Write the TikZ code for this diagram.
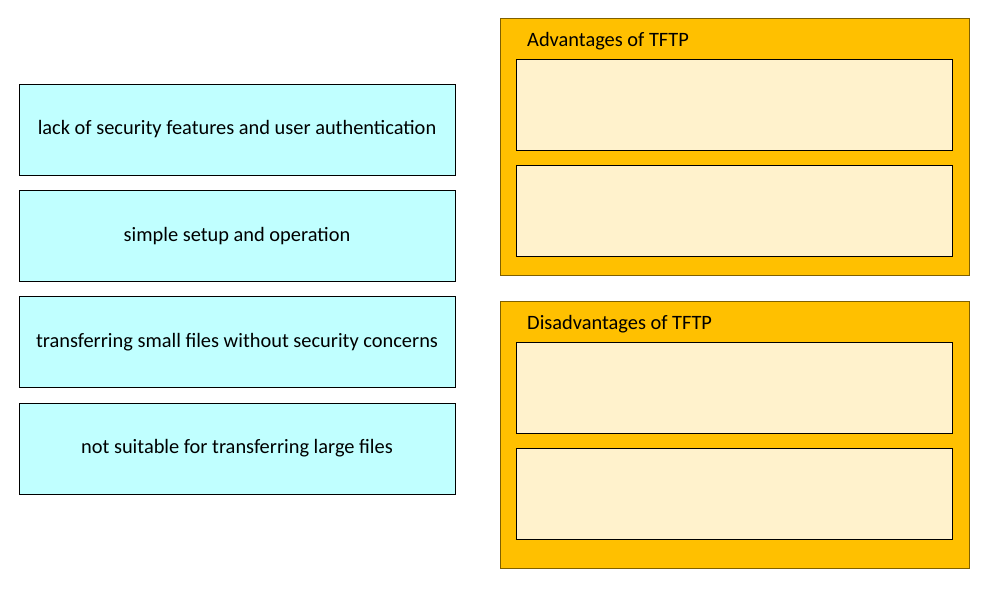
\documentclass[tikz,border=0pt]{standalone}
\usepackage{fontspec}
\setmainfont{Carlito}
\usepackage{tikz}
\definecolor{tftpcyan}{HTML}{C0FFFF}
\definecolor{tftporange}{HTML}{FFC000}
\definecolor{tftpcream}{HTML}{FFF2CC}
\definecolor{tftpedge}{HTML}{7F6000}

\begin{document}
\begin{tikzpicture}[x=1pt, y=-1pt,
  item/.style={draw=black, line width=1pt, fill=tftpcyan, minimum width=436pt, minimum height=91pt, inner sep=0pt, outer sep=0pt, font=\fontsize{20.4}{24}\selectfont},
  group/.style={draw=tftpedge, line width=1pt, fill=tftporange, minimum width=469pt, inner sep=0pt, outer sep=0pt},
  slot/.style={draw=black, line width=1pt, fill=tftpcream, minimum width=436pt, minimum height=91pt, inner sep=0pt, outer sep=0pt},
  heading/.style={anchor=west, inner sep=0pt, font=\fontsize{20.4}{24}\selectfont}]
\useasboundingbox (0,0) rectangle (990,590);
% left column
\node[item] (lack) at (237,129.5) {lack of security features and user authentication};
\node[item] (simple) at (237,236) {simple setup and operation};
\node[item] (small) at (237,342) {transferring small files without security concerns};
\node[item] (large) at (237,448.5) {not suitable for transferring large files};
% right column
\node[group, minimum height=257pt] (adv) at (734.5,146.5) {};
\node[heading] (advtitle) at (527,41) {Advantages of TFTP};
\node[slot] (adva) at (734,104.5) {};
\node[slot] (advb) at (734,210.5) {};
\node[group, minimum height=267pt] (dis) at (734.5,434.5) {};
\node[heading] (distitle) at (527,324) {Disadvantages of TFTP};
\node[slot] (disa) at (734,388) {};
\node[slot] (disb) at (734,494) {};
\end{tikzpicture}
\end{document}
